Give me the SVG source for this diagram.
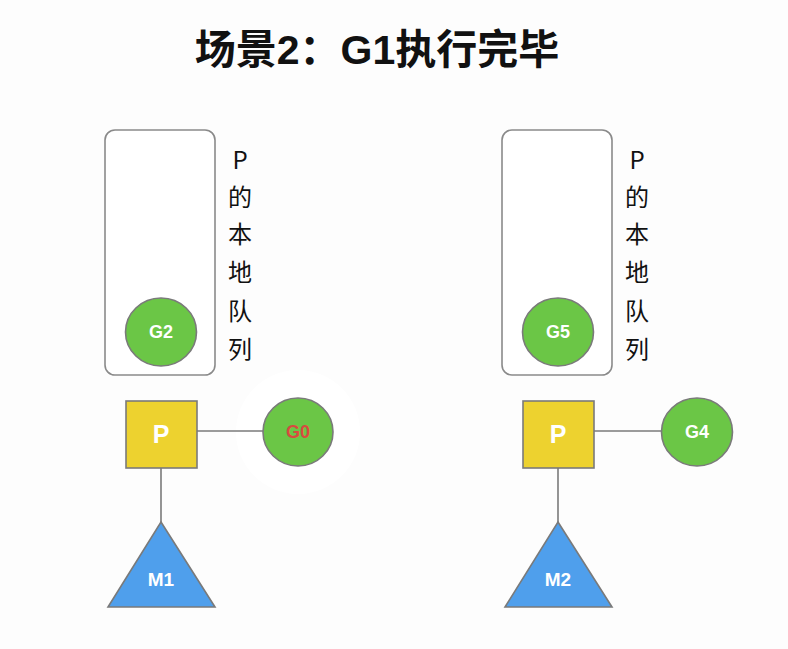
<svg xmlns="http://www.w3.org/2000/svg" width="788" height="649" viewBox="0 0 788 649">
<style>
.bg{fill:#fdfdfd}
.queue{fill:#ffffff;stroke:#8a8a8a;stroke-width:1.6}
.g{fill:#6bc646;stroke:#7a7a7a;stroke-width:1.6}
.p{fill:#edd22f;stroke:#7a7a7a;stroke-width:1.6}
.m{fill:#4f9fec;stroke:#7a7a7a;stroke-width:1.6}
.link{stroke:#7a7a7a;stroke-width:1.6;fill:none}
.lbl{font-family:"Liberation Sans",Arial,sans-serif;font-weight:bold;fill:#ffffff;text-anchor:middle;dominant-baseline:central}
.vt{font-family:"Noto Sans CJK SC","Liberation Sans",sans-serif;font-size:24px;fill:#111;text-anchor:middle;dominant-baseline:central}
.title{font-family:"Liberation Sans","Noto Sans CJK SC",sans-serif;font-weight:bold;font-size:41px;fill:#111;text-anchor:middle}
</style>
<rect class="bg" x="0" y="0" width="788" height="649"/>
<circle cx="298" cy="432" r="62" fill="#ffffff"/>
<text class="title" x="377" y="64">场景2：G1执行完毕</text>

<g id="connectors">
<line class="link" x1="197" y1="431" x2="263" y2="431"/>
<line class="link" x1="161" y1="468" x2="161" y2="522"/>
<line class="link" x1="594" y1="431" x2="662" y2="431"/>
<line class="link" x1="558" y1="468" x2="558" y2="522"/>
</g>

<g id="queue1">
<rect class="queue" x="105" y="130" width="110" height="245" rx="10"/>
<text class="vt" x="240" y="158">P</text>
<text class="vt" x="240" y="195">的</text>
<text class="vt" x="240" y="232">本</text>
<text class="vt" x="240" y="270">地</text>
<text class="vt" x="240" y="309">队</text>
<text class="vt" x="240" y="347">列</text>
</g>
<g id="G2">
<ellipse class="g" cx="161" cy="332" rx="35.5" ry="34"/>
<text class="lbl" x="161" y="332" font-size="18">G2</text>
</g>
<g id="P1">
<rect class="p" x="126" y="401" width="71" height="67"/>
<text class="lbl" x="161" y="434" font-size="25">P</text>
</g>
<g id="G0">
<ellipse class="g" cx="298" cy="432" rx="35" ry="34"/>
<text class="lbl" x="298" y="432" font-size="18" style="fill:#d94a3f">G0</text>
</g>
<g id="M1">
<polygon class="m" points="161,522 215,607 108,607"/>
<text class="lbl" x="161" y="579" font-size="19">M1</text>
</g>

<g id="queue2">
<rect class="queue" x="502" y="130" width="110" height="245" rx="10"/>
<text class="vt" x="637" y="158">P</text>
<text class="vt" x="637" y="195">的</text>
<text class="vt" x="637" y="232">本</text>
<text class="vt" x="637" y="270">地</text>
<text class="vt" x="637" y="309">队</text>
<text class="vt" x="637" y="347">列</text>
</g>
<g id="G5">
<ellipse class="g" cx="558" cy="332" rx="35.5" ry="34"/>
<text class="lbl" x="558" y="332" font-size="18">G5</text>
</g>
<g id="P2">
<rect class="p" x="523" y="401" width="71" height="67"/>
<text class="lbl" x="558" y="434" font-size="25">P</text>
</g>
<g id="G4">
<ellipse class="g" cx="697" cy="432" rx="35.5" ry="34"/>
<text class="lbl" x="697" y="432" font-size="18">G4</text>
</g>
<g id="M2">
<polygon class="m" points="558,522 612,607 505,607"/>
<text class="lbl" x="558" y="579" font-size="19">M2</text>
</g>
</svg>
